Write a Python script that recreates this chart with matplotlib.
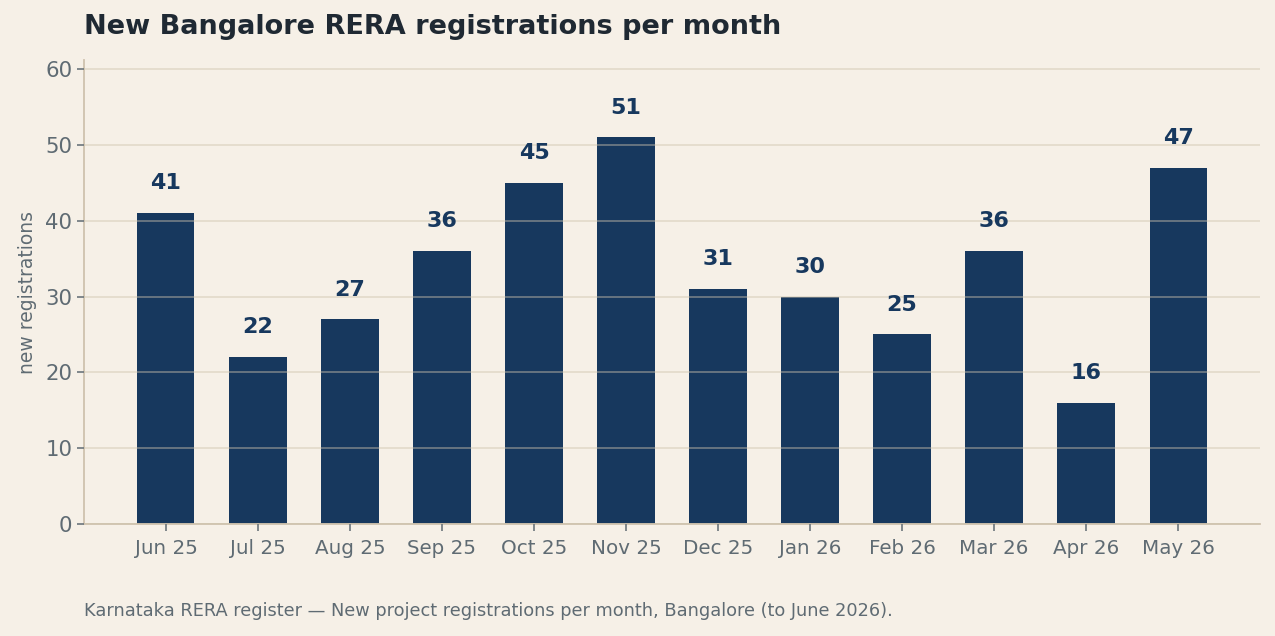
import matplotlib
matplotlib.use('Agg')
import matplotlib.pyplot as plt
import numpy as np

months = ['Jun 25', 'Jul 25', 'Aug 25', 'Sep 25', 'Oct 25', 'Nov 25',
          'Dec 25', 'Jan 26', 'Feb 26', 'Mar 26', 'Apr 26', 'May 26']
registrations = [41, 22, 27, 36, 45, 51, 31, 30, 25, 36, 16, 47]

bg = '#F6F0E7'
bar_color = '#17385E'
grey_text = '#5F6B73'

plt.rcParams['font.family'] = 'DejaVu Sans'
fig = plt.figure(figsize=(12.75, 6.36), dpi=100, facecolor=bg)
ax = fig.add_axes([84/1275, 1-524/636, (1260-84)/1275, (524-60)/636])
ax.set_facecolor(bg)

x = np.arange(len(months))
ax.bar(x, registrations, width=0.62, color=bar_color, zorder=1)
for xi, v in zip(x, registrations):
    ax.text(xi, v + 2.6, str(v), ha='center', va='bottom', fontsize=16,
            fontweight='bold', color=bar_color)

ax.set_ylim(0, max(registrations) * 1.2)
ax.set_xticks(x)
ax.set_xticklabels(months)
ax.set_yticks([0, 10, 20, 30, 40, 50, 60])
ax.tick_params(axis='x', colors='#6b757c', labelcolor=grey_text, labelsize=14.3, length=5, width=1.2, pad=6)
ax.tick_params(axis='y', colors='#6b757c', labelcolor=grey_text, labelsize=15.3, length=5, width=1.2)

ax.set_axisbelow(False)
ax.yaxis.grid(True, color='#cfc4ad', alpha=0.5, linewidth=1.2, zorder=3)

for s in ['top', 'right']:
    ax.spines[s].set_visible(False)
for s in ['left', 'bottom']:
    ax.spines[s].set_color('#CFC2AE')
    ax.spines[s].set_linewidth(1.3)

ax.set_ylabel('new registrations', fontsize=13.5, color=grey_text, labelpad=6)

fig.text(84/1275, 1-27/636, 'New Bangalore RERA registrations per month',
         fontsize=19.5, fontweight='bold', color='#1F2933', ha='left', va='center')
fig.text(84/1275, 1-611/636,
         'Karnataka RERA register \u2014 New project registrations per month, Bangalore (to June 2026).',
         fontsize=12.75, color=grey_text, ha='left', va='center')

fig.savefig('out.png', dpi=100, facecolor=bg)
